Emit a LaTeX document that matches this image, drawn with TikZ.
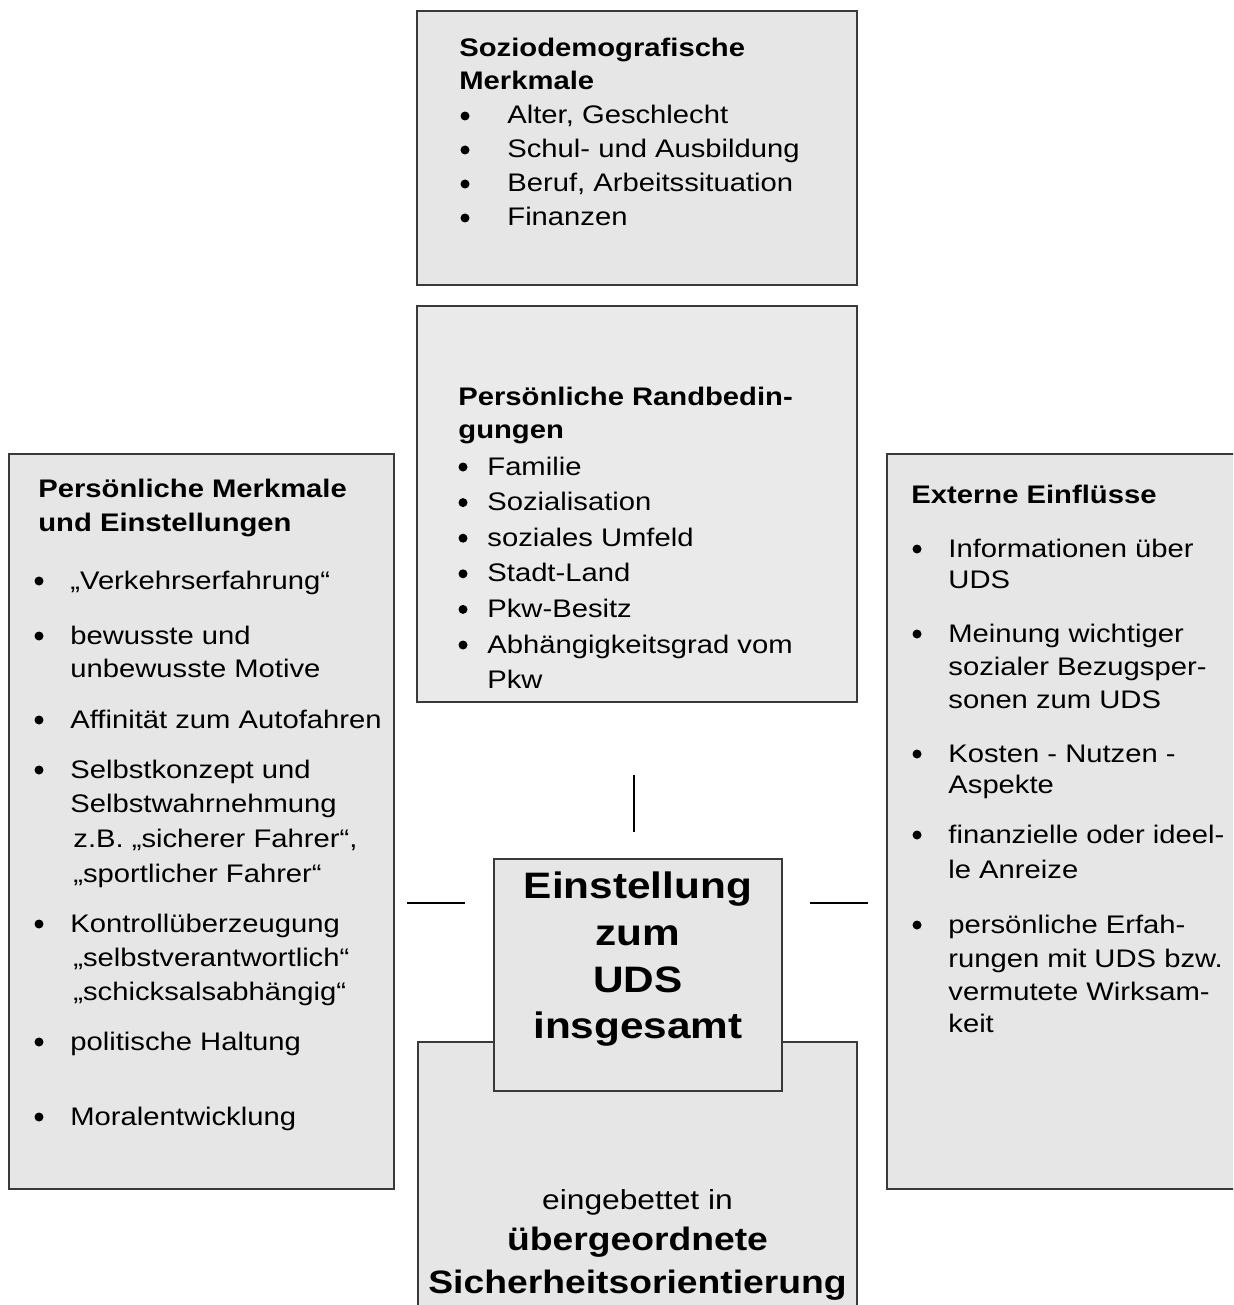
\documentclass[tikz,border=0pt]{standalone}
\usepackage{fontspec}
\setmainfont{Liberation Sans}[Ligatures=NoCommon, FakeStretch=1.15]
\definecolor{boxfill}{HTML}{E6E6E6}
\definecolor{boxfillB}{HTML}{EAEAEA}
\definecolor{boxline}{HTML}{3A3A3A}
\newcommand\Lhead[4]{\node[headtxt] (#1) at (#2,#3) {#4};}
\newcommand\Ltxt[4]{\node[bodytxt] (#1) at (#2,#3) {#4};}
\newcommand\Lbul[3]{\node[bulmark] (#1) at (#2,#3-8) {};}
\begin{document}
\begin{tikzpicture}[x=0.5pt,y=-0.5pt,
  boxst/.style={draw=boxline, line width=0.75pt, fill=boxfill, rectangle, inner sep=0pt, outer sep=0pt},
  headtxt/.style={anchor=base west, inner sep=0pt, font=\bfseries\fontsize{12.7}{15}\selectfont},
  bodytxt/.style={anchor=base west, inner sep=0pt, font=\fontsize{12.7}{15}\selectfont},
  bulmark/.style={circle, fill=black, draw=none, inner sep=0pt, minimum size=4.5pt},
  embtxt/.style={anchor=base, inner sep=0pt, font=\fontsize{13.8}{17}\selectfont},
  bigtxt/.style={anchor=base, inner sep=0pt, font=\bfseries\fontsize{18.4}{22}\selectfont},
  midtxt/.style={anchor=base, inner sep=0pt, font=\bfseries\fontsize{16.2}{20}\selectfont},
  conn/.style={draw=black, line width=0.65pt}]
\useasboundingbox (0,0) rectangle (1233,1305);
\clip (0,0) rectangle (1233,1305);

% boxes
\node[boxst, minimum width=220pt, minimum height=137pt] (sozio) at (637,148) {};
\node[boxst, fill=boxfillB, minimum width=220pt, minimum height=198pt] (rand) at (637,504) {};
\node[boxst, minimum width=192.5pt, minimum height=367.5pt] (pers) at (201.5,821.5) {};
\node[boxst, minimum width=179pt, minimum height=367.5pt] (ext) at (1066,821.5) {};
\node[boxst, minimum width=219.5pt, minimum height=139pt] (sich) at (637.5,1181) {};
\node[boxst, minimum width=144pt, minimum height=116pt] (einst) at (638,975) {};

% connectors (free line segments)
\coordinate (lA) at (407,903); \coordinate (lB) at (465,903);
\coordinate (rA) at (810,903); \coordinate (rB) at (868,903);
\coordinate (tA) at (634,775); \coordinate (tB) at (634,832);
\draw[conn] (lA) -- (lB);
\draw[conn] (rA) -- (rB);
\draw[conn] (tA) -- (tB);

% top box
\Lhead{s1}{459}{57}{Soziodemografische}
\Lhead{s2}{459}{90}{Merkmale}
\Lbul{sb1}{465}{124}\Ltxt{st1}{507}{124}{Alter, Geschlecht}
\Lbul{sb2}{465}{158}\Ltxt{st2}{507}{158}{Schul- und Ausbildung}
\Lbul{sb3}{465}{192}\Ltxt{st3}{507}{192}{Beruf, Arbeitssituation}
\Lbul{sb4}{465}{226}\Ltxt{st4}{507}{226}{Finanzen}

% Randbedingungen
\Lhead{r1}{458}{405}{Persönliche Randbedin-}
\Lhead{r2}{458}{438}{gungen}
\Lbul{rb1}{463}{475}\Ltxt{rt1}{487}{475}{Familie}
\Lbul{rb2}{463}{510.6}\Ltxt{rt2}{487}{510.6}{Sozialisation}
\Lbul{rb3}{463}{546.2}\Ltxt{rt3}{487}{546.2}{soziales Umfeld}
\Lbul{rb4}{463}{581.8}\Ltxt{rt4}{487}{581.8}{Stadt-Land}
\Lbul{rb5}{463}{617.4}\Ltxt{rt5}{487}{617.4}{Pkw-Besitz}
\Lbul{rb6}{463}{653}\Ltxt{rt6}{487}{653}{Abhängigkeitsgrad vom}
\Ltxt{rt7}{487}{688.6}{Pkw}

% left box
\Lhead{p1}{38}{497}{Persönliche Merkmale}
\Lhead{p2}{38}{531}{und Einstellungen}
\Lbul{pb1}{39}{589}\Ltxt{pt1}{70}{589}{„Verkehrserfahrung“}
\Lbul{pb2}{39}{644}\Ltxt{pt2}{70}{644}{bewusste und}
\Ltxt{pt3}{70}{677}{unbewusste Motive}
\Lbul{pb3}{39}{728}\Ltxt{pt4}{70}{728}{Affinität zum Autofahren}
\Lbul{pb4}{39}{778}\Ltxt{pt5}{70}{778}{Selbstkonzept und}
\Ltxt{pt6}{70}{812}{Selbstwahrnehmung}
\Ltxt{pt7}{73}{847}{z.B. „sicherer Fahrer“,}
\Ltxt{pt8}{73}{882}{„sportlicher Fahrer“}
\Lbul{pb5}{39}{932}\Ltxt{pt9}{70}{932}{Kontrollüberzeugung}
\Ltxt{pt10}{73}{966}{„selbstverantwortlich“}
\Ltxt{pt11}{73}{1000}{„schicksalsabhängig“}
\Lbul{pb6}{39}{1050}\Ltxt{pt12}{70}{1050}{politische Haltung}
\Lbul{pb7}{39}{1125}\Ltxt{pt13}{70}{1125}{Moralentwicklung}

% right box
\Lhead{e1}{911}{503}{Externe Einflüsse}
\Lbul{eb1}{917}{557}\Ltxt{et1}{948}{557}{Informationen über}
\Ltxt{et2}{948}{588}{UDS}
\Lbul{eb2}{917}{642}\Ltxt{et3}{948}{642}{Meinung wichtiger}
\Ltxt{et4}{948}{675}{sozialer Bezugsper-}
\Ltxt{et5}{948}{708}{sonen zum UDS}
\Lbul{eb3}{917}{762}\Ltxt{et6}{948}{762}{Kosten - Nutzen -}
\Ltxt{et7}{948}{793}{Aspekte}
\Lbul{eb4}{917}{843}\Ltxt{et8}{948}{843}{finanzielle oder ideel-}
\Ltxt{et9}{948}{878}{le Anreize}
\Lbul{eb5}{917}{933}\Ltxt{et10}{948}{933}{persönliche Erfah-}
\Ltxt{et11}{948}{967}{rungen mit UDS bzw.}
\Ltxt{et12}{948}{1000}{vermutete Wirksam-}
\Ltxt{et13}{948}{1032}{keit}

% centre box
\node[bigtxt] (c1) at (638,898) {Einstellung};
\node[bigtxt] (c2) at (638,945) {zum};
\node[bigtxt] (c3) at (638,992) {UDS};
\node[bigtxt] (c4) at (638,1038) {insgesamt};

% bottom box
\node[embtxt] (b1) at (637.5,1209) {eingebettet in};
\node[midtxt] (b2) at (637.5,1250) {übergeordnete};
\node[midtxt] (b3) at (637.5,1293) {Sicherheitsorientierung};
\end{tikzpicture}
\end{document}
